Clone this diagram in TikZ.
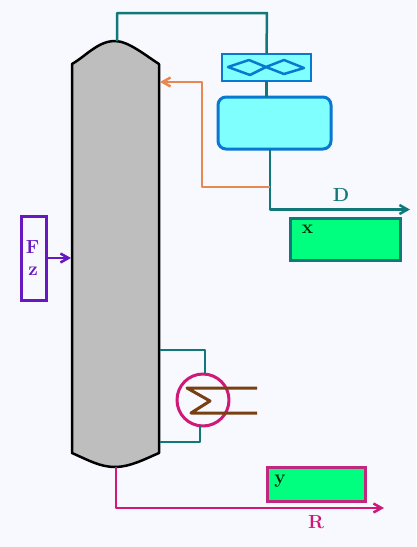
\documentclass[tikz,border=0pt]{standalone}
\usepackage{amsmath, amssymb}
\usepackage{xcolor}
\usetikzlibrary{arrows.meta}
\definecolor{paleback}{HTML}{F8F8FF}
\definecolor{tealline}{HTML}{107878}
\definecolor{coolfill}{HTML}{80FFFF}
\definecolor{coolblue}{HTML}{0878D0}
\definecolor{refluxor}{HTML}{E88850}
\definecolor{feedpur}{HTML}{6818C0}
\definecolor{prodgreen}{HTML}{00FF7F}
\definecolor{reboilmag}{HTML}{D01878}
\definecolor{steambrn}{HTML}{784010}
\definecolor{resboxmag}{HTML}{C02880}
\definecolor{colgray}{HTML}{BEBEBE}
\tikzset{
  tip/.style={-{Straight Barb[length=8pt,width=9pt]}},
  pipe/.style={line width=2.5pt, tealline},
  databox/.style={draw, line width=3pt, line join=miter, fill=prodgreen, inner sep=0pt, outer sep=0pt},
  tag/.style={font=\bfseries\fontsize{19}{19}\selectfont, inner sep=0pt}
}

\begin{document}
\begin{tikzpicture}[x=1pt, y=-1pt, line join=round]
  \fill[paleback] (0,0) rectangle (416,547);
  \useasboundingbox (0,0) rectangle (416,547);
  % Column
  \coordinate (coltop) at (117,41);
  \coordinate (colbot) at (116,467);
  \filldraw[fill=colgray, draw=black, line width=2.5pt] (72,64)
    .. controls (86,56) and (98,41) .. (115,41)
    .. controls (128,41) and (145,55) .. (159,64) -- (159,453)
    .. controls (145,459) and (130,467) .. (115,467)
    .. controls (100,467) and (88,460) .. (72,453) -- cycle;
  % Condenser and drum
  \node[draw=coolblue, fill=coolfill, line width=2pt, line join=miter, minimum width=89pt, minimum height=27pt, inner sep=0pt, outer sep=0pt] (cond) at (266.5,67.5) {};
  \draw[coolblue, line width=2.5pt] (228,67) -- (249,60) -- (266,67) -- (250,75) -- cycle;
  \draw[coolblue, line width=2.5pt] (266,67) -- (284,60) -- (304,68) -- (284,74) -- cycle;
  \node[draw=coolblue, fill=coolfill, line width=3pt, rounded corners=8pt, minimum width=113pt, minimum height=52pt, inner sep=0pt, outer sep=0pt] (drum) at (274.5,123) {};
  \coordinate (overhead) at (267,13);
  \draw[pipe] (coltop) -- (coltop |- overhead) -- (overhead) -- (cond.north);
  \draw[pipe] (cond.south) -- (cond.south |- drum.north);
  % Distillate
  \coordinate (drumout) at (270,149);
  \coordinate (split) at (270,187);
  \coordinate (distend) at (410,209.5);
  \draw[pipe, tip] (drumout) -- (drumout |- distend) -- (distend);
  \node[tag, tealline] (dlabel) at (341,195) {D};
  \node[databox, draw=tealline, minimum width=110pt, minimum height=42pt] (xbox) at (345,239) {};
  \node[tag, black!85!green] (xlabel) at (307.5,229) {x};
  % Reflux
  \coordinate (refluxin) at (160,82);
  \coordinate (refluxup) at (202,82);
  \draw[refluxor, line width=2.5pt, tip] (split) -- (split -| refluxup) -- (refluxup) -- (refluxin);
  % Feed
  \node[draw=feedpur, line width=3pt, line join=miter, minimum width=25pt, minimum height=84pt, inner sep=0pt, outer sep=0pt] (feedbox) at (33.5,258) {};
  \node[tag, feedpur] (flabel) at (32.5,247) {F};
  \node[tag, feedpur] (zlabel) at (33,271) {z};
  \coordinate (feedin) at (71,258);
  \draw[feedpur, line width=2.5pt, tip] (feedbox.east) -- (feedin);
  % Reboiler
  \coordinate (drawoff) at (160,350);
  \coordinate (boilback) at (160,442);
  \node[circle, draw=reboilmag, line width=3pt, minimum size=52pt, inner sep=0pt, outer sep=0pt] (reb) at (203,400) {};
  \draw[pipe] (drawoff) -- (205,350) -- (205,374);
  \draw[pipe] (boilback) -- (200,442) -- (200,426);
  \draw[steambrn, line width=3pt] (257,388) -- (187,388) -- (210,401) -- (191,413) -- (257,413);
  % Residue
  \node[databox, draw=resboxmag, minimum width=98pt, minimum height=34pt] (ybox) at (316.5,484) {};
  \node[tag, black!85!green] (ylabel) at (280,481) {y};
  \coordinate (resend) at (384,508);
  \draw[reboilmag, line width=2.5pt, tip] (colbot) -- (colbot |- resend) -- (resend);
  \node[tag, reboilmag] (rlabel) at (316,522) {R};
\end{tikzpicture}
\end{document}
